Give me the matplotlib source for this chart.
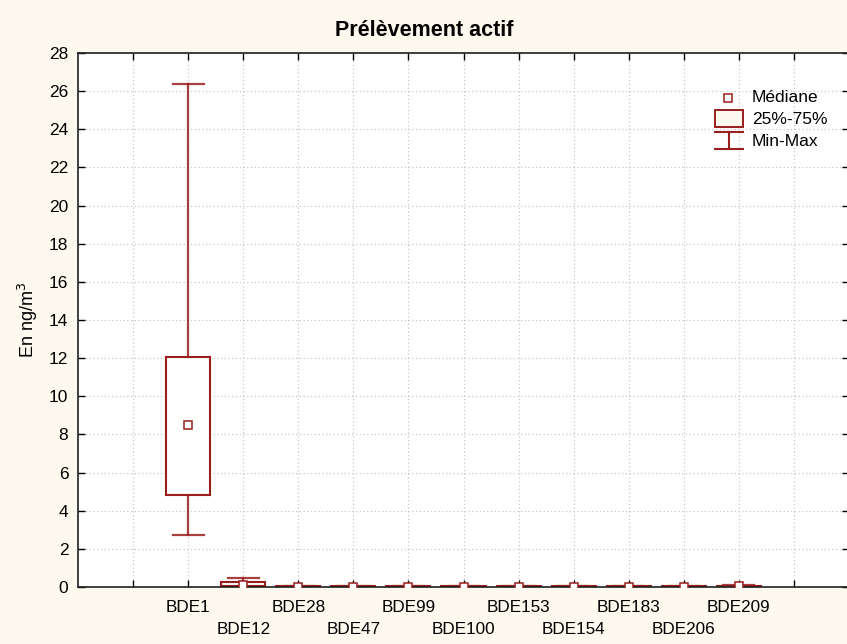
import matplotlib
matplotlib.use("Agg")
import matplotlib.pyplot as plt
from matplotlib.patches import Rectangle
from matplotlib.lines import Line2D
from matplotlib import font_manager

plt.rcParams['font.family'] = ['Liberation Sans', 'DejaVu Sans']
_names = {f.name for f in font_manager.fontManager.ttflist}
NARROW = 'Liberation Sans Narrow' in _names
TITLE_FAMILY = ['Liberation Sans Narrow', 'Liberation Sans'] if NARROW else ['Liberation Sans']

categories = ["BDE1", "BDE12", "BDE28", "BDE47", "BDE99", "BDE100",
              "BDE153", "BDE154", "BDE183", "BDE206", "BDE209"]
mins    = [2.75, 0.00, 0.000, 0.000, 0.000, 0.000, 0.000, 0.000, 0.000, 0.000, 0.000]
q1s     = [4.80, 0.04, 0.005, 0.005, 0.005, 0.005, 0.005, 0.005, 0.005, 0.005, 0.010]
medians = [8.50, 0.13, 0.020, 0.020, 0.020, 0.020, 0.020, 0.020, 0.020, 0.020, 0.030]
q3s     = [12.05, 0.26, 0.030, 0.030, 0.030, 0.030, 0.030, 0.030, 0.030, 0.030, 0.060]
maxs    = [26.40, 0.46, 0.050, 0.040, 0.040, 0.040, 0.040, 0.050, 0.040, 0.040, 0.100]

yticks = list(range(0, 29, 2))
legend_labels = ["Médiane", "25%-75%", "Min-Max"]

RED = '#9A1E1E'
W, H = 847, 644
fig = plt.figure(figsize=(W/100, H/100), dpi=100)
fig.patch.set_facecolor('#FEF9EE')

left_px, right_px, top_px, bot_px = 78, 849, 53, 587
ax = fig.add_axes([left_px/W, 1 - bot_px/H, (right_px-left_px)/W, (bot_px-top_px)/H])
ax.set_facecolor('white')

stats = []
for i, c in enumerate(categories):
    stats.append(dict(label=c, whislo=mins[i], q1=q1s[i], med=medians[i],
                      q3=q3s[i], whishi=maxs[i], fliers=[]))
positions = list(range(1, len(categories) + 1))
ax.bxp(stats, positions=positions, widths=0.8, capwidths=0.56,
       showmeans=False, patch_artist=True, manage_ticks=False,
       boxprops=dict(facecolor='white', edgecolor=RED, linewidth=1.5),
       whiskerprops=dict(color=RED, linewidth=1.6, alpha=0.85),
       capprops=dict(color=RED, linewidth=1.6, alpha=0.85),
       medianprops=dict(linewidth=0))
ax.plot(positions, medians, linestyle='none', marker='s', markersize=5.5,
        markerfacecolor='white', markeredgecolor=RED, markeredgewidth=1.1, zorder=5)

ax.set_xlim(-1, 13)
ax.set_ylim(0, 28)

major = list(range(0, 13))
major_labels = []
for k in major:
    if 1 <= k <= len(categories) and k % 2 == 1:
        major_labels.append(categories[k-1])
    else:
        major_labels.append("")
ax.set_xticks(major)
ax.set_xticklabels(major_labels, fontsize=12.3)
minor = [k for k in positions if k % 2 == 0]
ax.xaxis.remove_overlapping_locs = False
ax.set_xticks(minor, minor=True)
ax.set_xticklabels([categories[k-1] for k in minor], minor=True, fontsize=12.3)
ax.tick_params(axis='x', which='major', direction='in', length=5, width=1, top=True, pad=9)
ax.tick_params(axis='x', which='minor', direction='in', length=0, top=False, pad=25.5)

ax.set_yticks(yticks)
ax.set_yticklabels([str(v) for v in yticks], fontsize=12.5)
ax.tick_params(axis='y', direction='in', length=5, width=1, right=True, pad=7)
ax.grid(True, which='major', linestyle=(0, (1, 2)), color='#C8C8C8', linewidth=0.9)
ax.set_axisbelow(True)
for s in ax.spines.values():
    s.set_linewidth(1.2)
    s.set_color('#202020')

fig.text(424/W, 1 - 31/H, "Prélèvement actif", ha='center', va='center',
         fontsize=(17 if NARROW else 15.5), fontweight='bold', family=TITLE_FAMILY)
fig.text(28/W, 1 - 320/H, "En ng/m$^3$", rotation=90, ha='center', va='center', fontsize=13)

def fx(x): return x / W
def fy(y): return 1 - y / H
fig.add_artist(Line2D([fx(728)], [fy(98)], marker='s', markersize=5.5,
                      markerfacecolor='white', markeredgecolor=RED, markeredgewidth=1.1,
                      linestyle='none', transform=fig.transFigure))
fig.add_artist(Rectangle((fx(715), fy(127)), fx(743) - fx(715), fy(110) - fy(127),
                         facecolor='#FEF9EE', edgecolor=RED, linewidth=1.4,
                         transform=fig.transFigure))
for yy in (132, 149):
    fig.add_artist(Line2D([fx(715), fx(743)], [fy(yy), fy(yy)], color=RED,
                          linewidth=1.5, transform=fig.transFigure))
fig.add_artist(Line2D([fx(729), fx(729)], [fy(132), fy(149)], color=RED,
                      linewidth=1.5, transform=fig.transFigure))
for lab, yy in zip(legend_labels, (98, 119, 142)):
    fig.text(fx(752), fy(yy), lab, ha='left', va='center', fontsize=12.5)

fig.savefig("out.png", dpi=100, facecolor=fig.get_facecolor())
